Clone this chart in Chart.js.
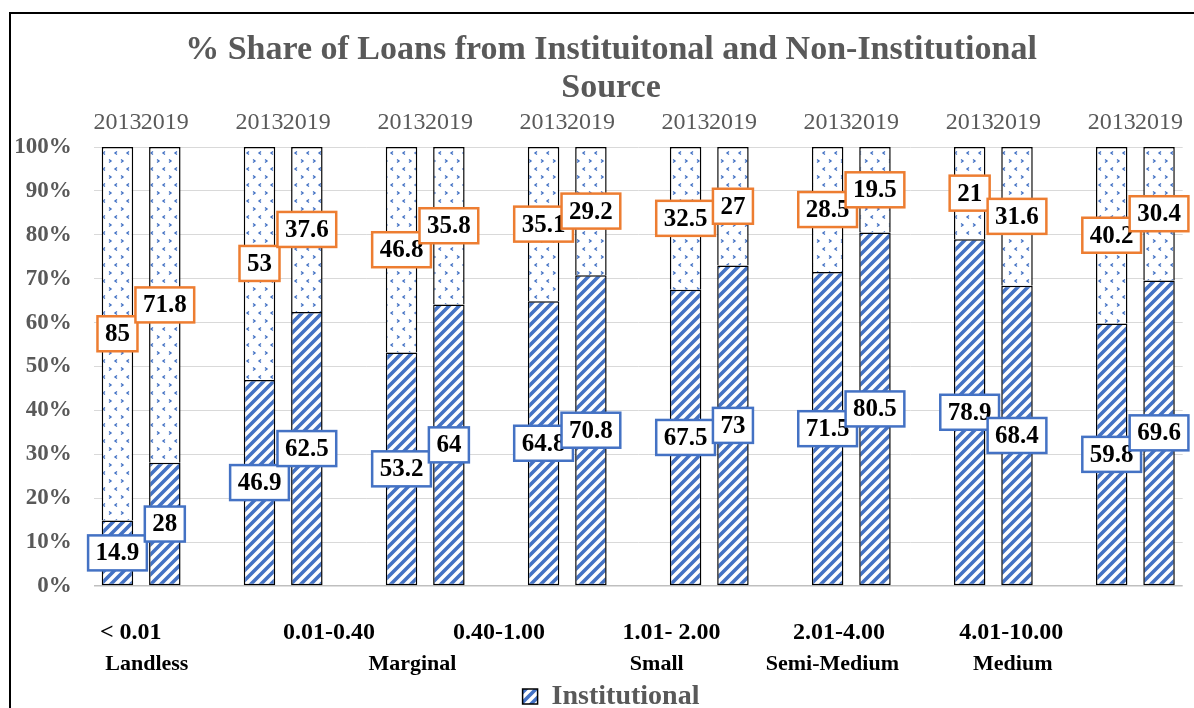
<!DOCTYPE html>
<html>
<head>
<meta charset="utf-8">
<script src="https://cdn.jsdelivr.net/npm/chart.js@4.4.0/dist/chart.umd.min.js"></script>
<style>
  html, body { margin: 0; padding: 0; background: #fff; overflow: hidden; }
  #wrap {
    position: absolute; left: 9px; top: 12px;
    width: 1200px; height: 720px;
    border: 2px solid #000;
  }
</style>
</head>
<body>
<div id="wrap"><canvas id="loanChart"></canvas></div>
<script>
// values (per cent)
const years = ['2013', '2019'];
const sizeRanges = ['< 0.01', '0.01-0.40', '0.40-1.00', '1.01- 2.00', '2.01-4.00', '4.01-10.00'];
const sizeClasses = ['Landless', 'Marginal', 'Small', 'Semi-Medium', 'Medium'];
const institutional2013 = [14.9, 46.9, 53.2, 64.8, 67.5, 71.5, 78.9, 59.8];
const institutional2019 = [28, 62.5, 64, 70.8, 73, 80.5, 68.4, 69.6];
const nonInstitutional2013 = [85, 53, 46.8, 35.1, 32.5, 28.5, 21, 40.2];
const nonInstitutional2019 = [71.8, 37.6, 35.8, 29.2, 27, 19.5, 31.6, 30.4];

// where the free text boxes under the chart sit (in category-index units)
const rangeLabelPos = [0.28, 4.47, 8.06, 11.7, 15.24, 18.88];
const classLabelPos = [0.62, 6.23, 11.39, 15.1, 18.91];

const BLUE = '#4472C4';
const ORANGE = '#ED7D31';
const GREY = '#595959';
const FONT = "'Liberation Serif', 'Times New Roman', serif";

// build the 23 slots: 2013, 2019, gap, 2013, 2019, gap, ...
const labels = [];
const instRaw = [];
const nonRaw = [];
for (let g = 0; g < institutional2013.length; g++) {
    labels.push(years[0], years[1]);
    instRaw.push(institutional2013[g], institutional2019[g]);
    nonRaw.push(nonInstitutional2013[g], nonInstitutional2019[g]);
    if (g < institutional2013.length - 1) {
        labels.push('');
        instRaw.push(null);
        nonRaw.push(null);
    }
}
// 100% stacked: scale each column to its total
const instPct = instRaw.map((v, i) => v === null ? null : v / (v + nonRaw[i]) * 100);
const nonPct = nonRaw.map((v, i) => v === null ? null : v / (v + instRaw[i]) * 100);

function hatchPattern() {
    const c = document.createElement('canvas');
    c.width = 10; c.height = 10;
    const g = c.getContext('2d');
    g.fillStyle = '#fff';
    g.fillRect(0, 0, 10, 10);
    g.strokeStyle = BLUE;
    g.lineWidth = 3.6;
    g.beginPath();
    g.moveTo(-5, 5); g.lineTo(5, -5);
    g.moveTo(0, 10); g.lineTo(10, 0);
    g.moveTo(5, 15); g.lineTo(15, 5);
    g.stroke();
    return g.createPattern(c, 'repeat');
}

function dotPattern() {
    const c = document.createElement('canvas');
    c.width = 12; c.height = 16;
    const g = c.getContext('2d');
    g.fillStyle = '#fff';
    g.fillRect(0, 0, 12, 16);
    g.strokeStyle = BLUE;
    g.lineWidth = 1.4;
    g.beginPath();
    g.moveTo(2, 1.5); g.lineTo(4, 3); g.lineTo(2, 4.5);
    g.moveTo(10, 9.5); g.lineTo(8, 11); g.lineTo(10, 12.5);
    g.stroke();
    return g.createPattern(c, 'repeat');
}

// boxed value labels in the middle of each segment
const boxLabels = {
    id: 'boxLabels',
    afterDatasetsDraw(chart) {
        const ctx = chart.ctx;
        const raws = [instRaw, nonRaw];
        const colors = [BLUE, ORANGE];
        ctx.save();
        ctx.font = 'bold 25px ' + FONT;
        ctx.textAlign = 'center';
        ctx.textBaseline = 'middle';
        chart.data.datasets.forEach((ds, di) => {
            const meta = chart.getDatasetMeta(di);
            meta.data.forEach((bar, i) => {
                const v = raws[di][i];
                if (v === null) return;
                const p = bar.getProps(['x', 'y', 'base'], true);
                const cy = (p.y + p.base) / 2;
                const txt = String(v);
                const w = ctx.measureText(txt).width + 15;
                const h = 35;
                ctx.fillStyle = '#fff';
                ctx.fillRect(p.x - w / 2, cy - h / 2, w, h);
                ctx.lineWidth = 2.5;
                ctx.strokeStyle = colors[di];
                ctx.strokeRect(p.x - w / 2, cy - h / 2, w, h);
                ctx.fillStyle = '#000';
                ctx.fillText(txt, p.x, cy + 1);
            });
        });
        ctx.restore();
    }
};

// the land-size text under the plot
const sizeText = {
    id: 'sizeText',
    afterDraw(chart) {
        const ctx = chart.ctx;
        const x = chart.scales.x;
        const bottom = chart.chartArea.bottom;
        ctx.save();
        ctx.fillStyle = '#000';
        ctx.textAlign = 'center';
        ctx.textBaseline = 'middle';
        ctx.font = 'bold 24px ' + FONT;
        sizeRanges.forEach((t, i) => ctx.fillText(t, x.getPixelForValue(rangeLabelPos[i]), bottom + 47));
        ctx.font = 'bold 22px ' + FONT;
        sizeClasses.forEach((t, i) => ctx.fillText(t, x.getPixelForValue(classLabelPos[i]), bottom + 78));
        ctx.restore();
    }
};

const ctx = document.getElementById('loanChart').getContext('2d');
new Chart(ctx, {
    type: 'bar',
    data: {
        labels: labels,
        datasets: [
            {
                label: 'Institutional',
                data: instPct,
                xAxisID: 'x',
                yAxisID: 'y',
                backgroundColor: hatchPattern(),
                borderColor: '#000',
                borderWidth: 1.5,
                borderSkipped: false
            },
            {
                label: 'Non-Institutional',
                data: nonPct,
                xAxisID: 'x',
                yAxisID: 'y',
                backgroundColor: dotPattern(),
                borderColor: '#000',
                borderWidth: 1.5,
                borderSkipped: 'start'
            }
        ]
    },
    options: {
        responsive: true,
        maintainAspectRatio: false,
        animation: false,
        categoryPercentage: 1,
        barPercentage: 0.665,
        layout: { padding: { left: 0, right: 0, top: 0, bottom: 13.5 } },
        plugins: {
            title: {
                display: true,
                text: ['% Share of Loans from Instituitonal and Non-Institutional', 'Source'],
                color: GREY,
                font: { family: FONT, size: 34, weight: 'bold', lineHeight: 38 / 34 },
                padding: { top: 17, bottom: 0 }
            },
            legend: {
                position: 'bottom',
                labels: {
                    filter: item => item.datasetIndex === 0,
                    color: GREY,
                    font: { family: FONT, size: 28, weight: 'bold' },
                    boxWidth: 15,
                    boxHeight: 15,
                    padding: 10
                }
            },
            tooltip: { enabled: false }
        },
        scales: {
            x: {
                position: 'top',
                stacked: true,
                grid: { display: false, drawTicks: false },
                border: { display: false },
                ticks: {
                    color: GREY,
                    font: { family: FONT, size: 24 },
                    autoSkip: false,
                    maxRotation: 0,
                    padding: 10
                },
                afterFit(scale) { scale.height = 40; }
            },
            // empty band under the plot that holds the land-size text
            xb: {
                type: 'category',
                position: 'bottom',
                grid: { display: false, drawTicks: false },
                border: { display: false },
                ticks: { display: false },
                afterFit(scale) { scale.height = 86.5; }
            },
            y: {
                stacked: true,
                min: 0,
                max: 100,
                grid: {
                    color: c => c.tick.value === 0 ? '#bfbfbf' : '#d9d9d9',
                    lineWidth: c => c.tick.value === 0 ? 1.5 : 1,
                    drawTicks: false
                },
                border: { display: false },
                ticks: {
                    stepSize: 10,
                    color: GREY,
                    font: { family: FONT, size: 23, weight: 'bold' },
                    padding: 22,
                    callback: v => v + '%'
                },
                afterFit(scale) { scale.width = 82.8; }
            },
            // spacer on the right so the plot ends where the reference does
            yr: {
                type: 'linear',
                position: 'right',
                grid: { display: false, drawTicks: false },
                border: { display: false },
                ticks: { display: false },
                afterFit(scale) { scale.width = 28.3; }
            }
        }
    },
    plugins: [boxLabels, sizeText]
});
</script>
</body>
</html>
